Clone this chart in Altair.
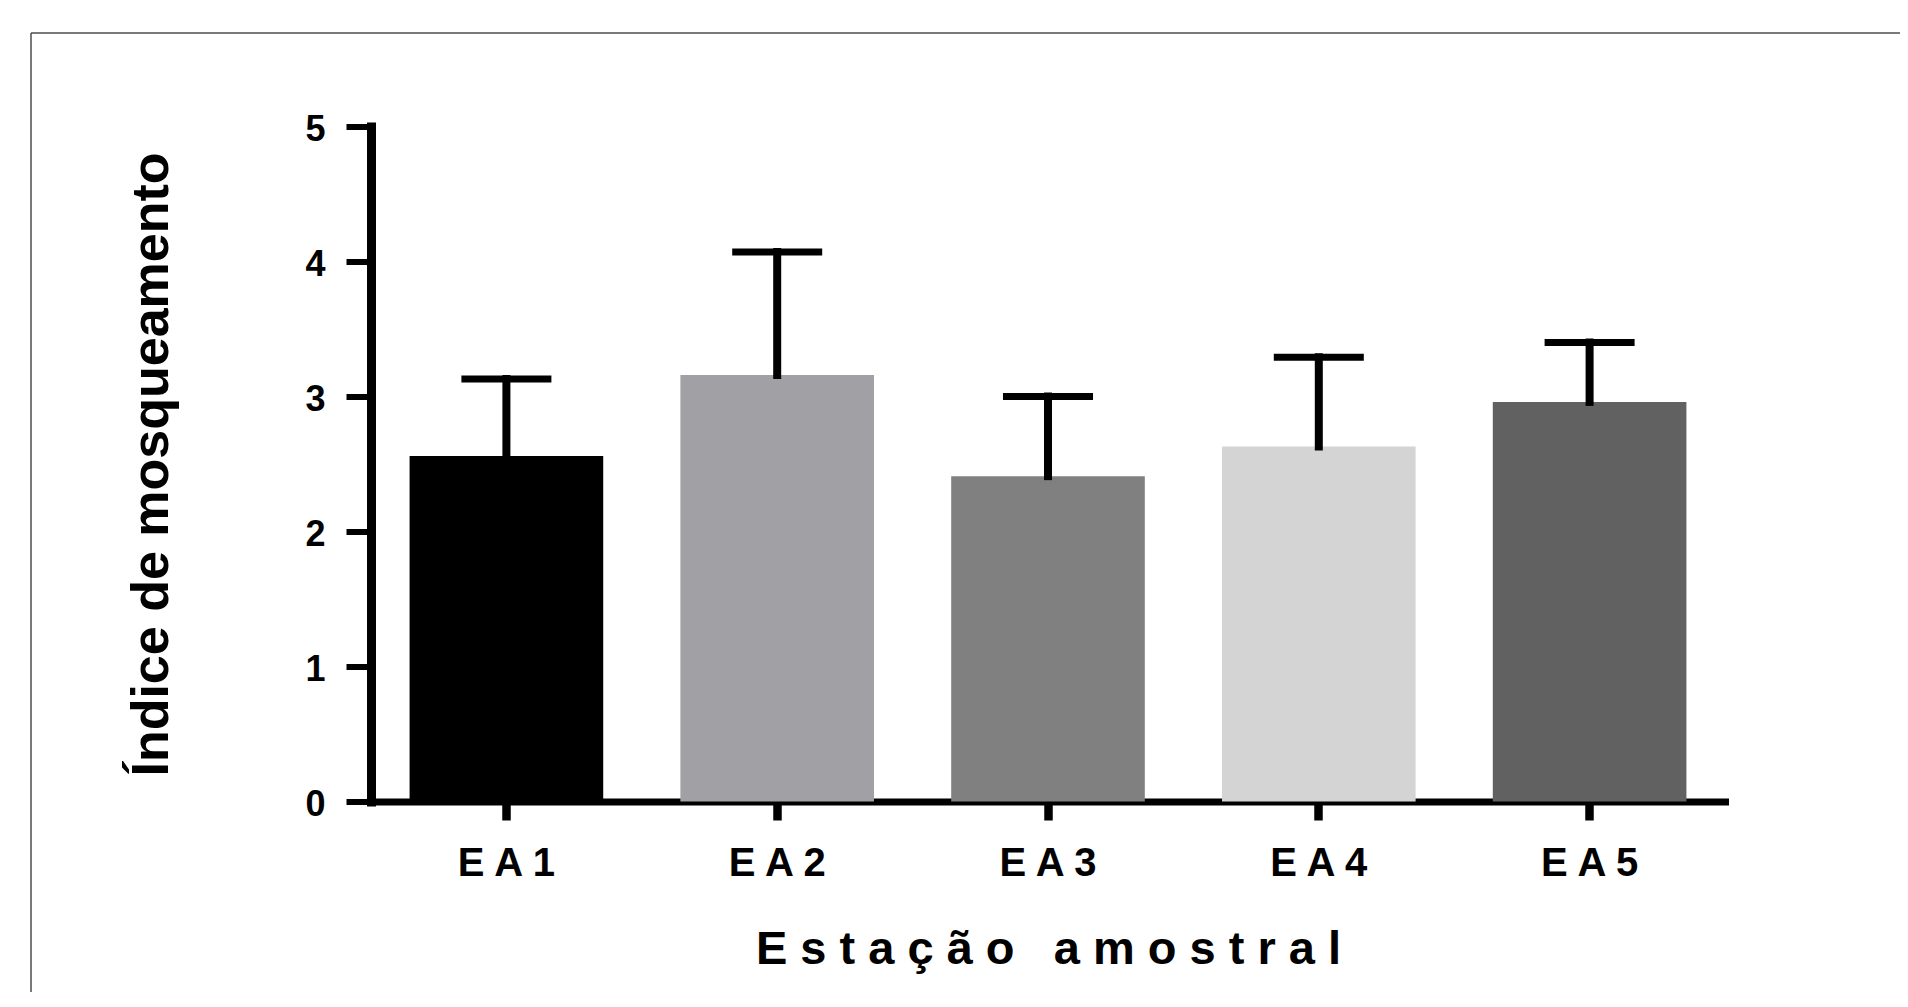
import altair as alt
import pandas as pd

# ---- data ----
categories = ["EA1", "EA2", "EA3", "EA4", "EA5"]
means = [2.56, 3.16, 2.41, 2.63, 2.96]
uppers = [3.13, 4.07, 3.00, 3.29, 3.40]
bar_colors = ["#000000", "#a1a0a4", "#808080", "#d4d4d4", "#616161"]
y_ticks = [0, 1, 2, 3, 4, 5]
x_title = "Estação amostral"
y_title = "Índice de mosqueamento"

df = pd.DataFrame({"cat": categories, "mean": means, "upper": uppers})

# letter-spaced title as in the reference
words = x_title.split(" ")
x_title_spaced = " \u00a0 ".join(" ".join(list(w)) for w in words)

PLOT_W = 1354
PLOT_H = 675
FONT = "Liberation Sans"

x_enc = alt.X(
    "cat:N",
    sort=categories,
    scale=alt.Scale(paddingInner=0.285, paddingOuter=0.1425),
    axis=alt.Axis(
        title=x_title_spaced,
        labelAngle=0,
        labelExpr="join(split(datum.label, ''), ' ')",
        labelFontSize=40,
        labelBaseline="alphabetic",
        labelPadding=55.5,
        tickSize=18.5,
        tickWidth=8.5,
        domainWidth=7,
        titleFontSize=47,
        titleX=PLOT_W / 2,
        titleY=161.5,
        titleBaseline="alphabetic",
        titleAlign="center",
        titleAngle=0,
    ),
)

y_scale = alt.Scale(domain=[0, 5], nice=False, zero=True)
y_axis = alt.Axis(
    title=y_title,
    values=y_ticks,
    format="d",
    labelFontSize=36,
    labelPadding=21,
    labelBaseline="middle",
    labelOffset=3,
    tickSize=25,
    tickWidth=6,
    domainWidth=9,
    titleFontSize=52,
    titleX=-204,
    titleY=PLOT_H / 2,
    titleAngle=-90,
    titleAlign="center",
    titleBaseline="alphabetic",
)

frame_src = pd.DataFrame({"k": [0]})
frame_left = alt.Chart(frame_src).mark_rule(color="#4d4d4d", strokeWidth=1.5).encode(
    x=alt.value(-340), y=alt.value(-93.5), y2=alt.value(PLOT_H + 400),
)
frame_top = alt.Chart(frame_src).mark_rule(color="#4d4d4d", strokeWidth=1.5).encode(
    x=alt.value(-340), x2=alt.value(PLOT_W + 400), y=alt.value(-93.5),
)

bars = alt.Chart(df).mark_bar(opacity=1).encode(
    x=x_enc,
    y=alt.Y("mean:Q", scale=y_scale, axis=y_axis),
    color=alt.Color("cat:N", scale=alt.Scale(domain=categories, range=bar_colors), legend=None),
)

stems = alt.Chart(df).mark_rule(color="black", opacity=1, strokeWidth=8, strokeCap="square").encode(
    x=alt.X("cat:N", sort=categories),
    y=alt.Y("mean:Q", scale=y_scale),
    y2="upper:Q",
)

caps = alt.Chart(df).mark_tick(color="black", opacity=1, size=90, thickness=7, orient="horizontal").encode(
    x=alt.X("cat:N", sort=categories),
    y=alt.Y("upper:Q", scale=y_scale),
)

chart = (
    alt.layer(frame_left, frame_top, bars, stems, caps)
    .properties(
        width=PLOT_W,
        height=PLOT_H,
        autosize=alt.AutoSizeParams(type="none"),
        padding={"left": 363, "top": 118.5, "right": 175, "bottom": 190},
        background="white",
    )
    .configure_view(stroke=None)
    .configure_axis(
        labelFont=FONT,
        labelFontWeight="bold",
        labelColor="black",
        titleFont=FONT,
        titleFontWeight="bold",
        titleColor="black",
        domainColor="black",
        tickColor="black",
        domainCap="square",
        grid=False,
        zindex=1,
    )
)

chart.save("out.html", embed_options={"renderer": "svg", "actions": False})
